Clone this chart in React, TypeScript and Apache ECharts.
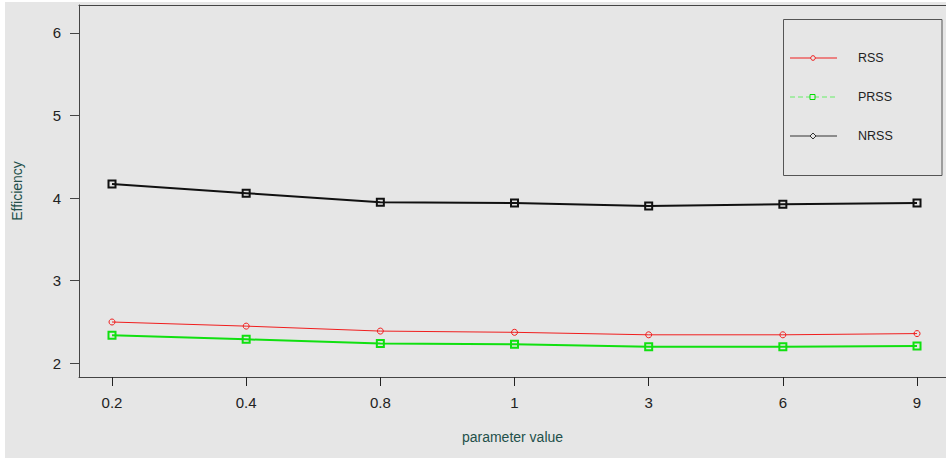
import React, { useEffect, useRef } from "react";
import * as echarts from "echarts";

const categories = ["0.2", "0.4", "0.8", "1", "3", "6", "9"];
const seriesNames = ["RSS", "PRSS", "NRSS"];
const rss = [2.5, 2.45, 2.39, 2.375, 2.345, 2.345, 2.36];
const prss = [2.34, 2.29, 2.24, 2.23, 2.2, 2.2, 2.21];
const nrss = [4.17, 4.06, 3.95, 3.94, 3.905, 3.925, 3.94];
const yTicks = [2, 3, 4, 5, 6];

const RED = "#f01e1e";
const GREEN = "#10e010";
const BLACK = "#111111";
const FONT = "'Liberation Sans', Arial, sans-serif";
const LABEL_COLOR = "#23504a";

export default function App() {
  const ref = useRef<HTMLDivElement>(null);

  useEffect(() => {
    if (!ref.current) return;
    const chart = echarts.init(ref.current, undefined, { renderer: "svg" });
    const toPts = (arr: number[]) => arr.map((v, i) => [i, v]);
    const xIdx = categories.map((_, i) => i);

    const legendRows = [58, 97, 136];
    const legendGraphics: any[] = [
      {
        type: "rect",
        shape: { x: 783.5, y: 19.5, width: 158.5, height: 156 },
        style: { fill: "none", stroke: "#555", lineWidth: 1 },
      },
    ];
    const legendLineColors = [RED, "#66ee66", "#333333"];
    seriesNames.forEach((name, i) => {
      const y = legendRows[i];
      legendGraphics.push({
        type: "line",
        shape: { x1: 790, y1: y, x2: 837, y2: y },
        style: {
          stroke: legendLineColors[i],
          lineWidth: 1,
          lineDash: i === 1 ? [5, 3] : null,
        },
      });
      if (i === 0) {
        legendGraphics.push({
          type: "circle",
          shape: { cx: 813, cy: y, r: 2.3 },
          style: { fill: "#e6e6e6", stroke: RED, lineWidth: 1 },
        });
      } else if (i === 1) {
        legendGraphics.push({
          type: "rect",
          shape: { x: 810, y: y - 2.5, width: 5, height: 5 },
          style: { fill: "#e6e6e6", stroke: "#00dd00", lineWidth: 1 },
        });
      } else {
        legendGraphics.push({
          type: "polygon",
          shape: { points: [[813, y - 3], [816, y], [813, y + 3], [810, y]] },
          style: { fill: "#e6e6e6", stroke: "#333", lineWidth: 1 },
        });
      }
      legendGraphics.push({
        type: "text",
        x: 858,
        y: y,
        style: {
          text: name,
          fontSize: 12.5,
          fontFamily: FONT,
          fill: "#222",
          verticalAlign: "middle",
          align: "left",
        },
      });
    });

    chart.setOption({
      animation: false,
      backgroundColor: "transparent",
      textStyle: { fontFamily: FONT },
      grid: {
        left: 79,
        top: 5,
        width: 867,
        height: 372,
        show: false,
        containLabel: false,
      },
      xAxis: [
        {
          type: "value",
          min: -0.246,
          max: 6.216,
          name: "parameter value",
          nameLocation: "middle",
          nameGap: 53,
          nameTextStyle: { fontSize: 14, color: LABEL_COLOR, fontFamily: FONT },
          axisLine: { show: true, onZero: false, lineStyle: { color: "#444", width: 1 } },
          axisTick: {
            show: true,
            length: 9,
            customValues: xIdx,
            lineStyle: { color: "#222", width: 1 },
          },
          axisLabel: {
            customValues: xIdx,
            formatter: (v: number) => categories[Math.round(v)] ?? "",
            fontSize: 15,
            color: "#222",
            margin: 18,
            fontFamily: FONT,
          },
          splitLine: { show: false },
        },
        {
          type: "value",
          position: "top",
          min: -0.246,
          max: 6.216,
          axisLine: { show: true, onZero: false, lineStyle: { color: "#444", width: 1 } },
          axisTick: { show: false },
          axisLabel: { show: false },
          splitLine: { show: false },
        },
      ],
      yAxis: {
        type: "value",
        min: 1.834,
        max: 6.339,
        name: "Efficiency",
        nameLocation: "middle",
        nameRotate: 90,
        nameGap: 55,
        nameTextStyle: { fontSize: 14, color: LABEL_COLOR, fontFamily: FONT },
        axisLine: { show: true, onZero: false, lineStyle: { color: "#444", width: 1 } },
        axisTick: {
          show: true,
          length: 9,
          customValues: yTicks,
          lineStyle: { color: "#444", width: 1 },
        },
        axisLabel: {
          customValues: yTicks,
          formatter: (v: number) => String(v),
          fontSize: 15,
          color: "#222",
          margin: 18,
          fontFamily: FONT,
        },
        splitLine: { show: false },
      },
      series: [
        {
          name: seriesNames[0],
          type: "line",
          data: toPts(rss),
          color: RED,
          symbol: "circle",
          symbolSize: 6,
          lineStyle: { color: RED, width: 1 },
          itemStyle: { color: "rgba(0,0,0,0)", borderColor: RED, borderWidth: 1 },
        },
        {
          name: seriesNames[1],
          type: "line",
          data: toPts(prss),
          color: GREEN,
          symbol: "rect",
          symbolSize: 7,
          lineStyle: { color: GREEN, width: 2 },
          itemStyle: { color: "rgba(0,0,0,0)", borderColor: GREEN, borderWidth: 2 },
        },
        {
          name: seriesNames[2],
          type: "line",
          data: toPts(nrss),
          color: BLACK,
          symbol: "rect",
          symbolSize: 7,
          lineStyle: { color: BLACK, width: 2 },
          itemStyle: { color: "rgba(0,0,0,0)", borderColor: BLACK, borderWidth: 2 },
        },
      ],
      graphic: { z: 100, elements: legendGraphics },
    });
    return () => chart.dispose();
  }, []);

  return (
    <div
      style={{
        position: "fixed",
        left: 0,
        top: 0,
        width: 946,
        height: 461,
        background: "#ffffff",
        overflow: "hidden",
      }}
    >
      <div
        style={{
          position: "absolute",
          left: 5,
          top: 2,
          width: 941,
          height: 456,
          background: "#e6e6e6",
        }}
      />
      <div
        ref={ref}
        style={{ position: "absolute", left: 0, top: 0, width: 946, height: 461 }}
      />
    </div>
  );
}
